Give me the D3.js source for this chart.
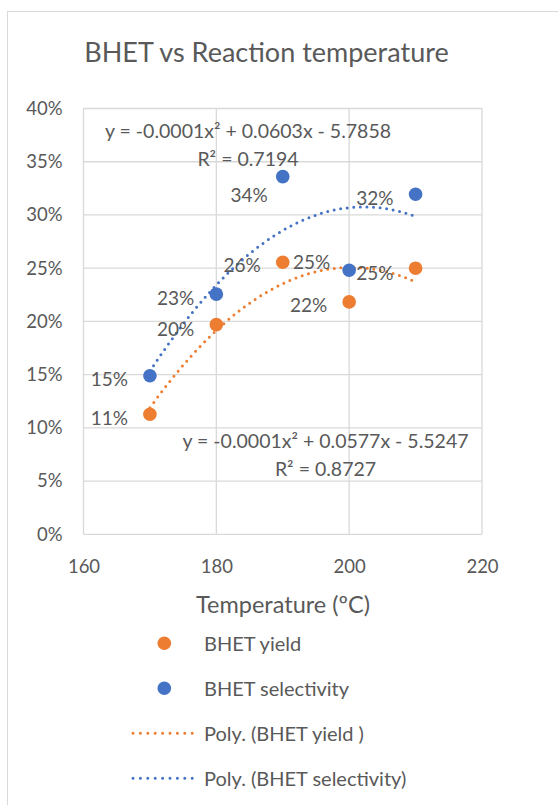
<!DOCTYPE html>
<html>
<head>
<meta charset="utf-8">
<script src="https://cdnjs.cloudflare.com/ajax/libs/d3/7.8.5/d3.min.js"></script>
<style>
  body { margin: 0; background: #fff; }
  text { font-family: Lato, "Open Sans", sans-serif; fill: #595959; }
</style>
</head>
<body>
<div id="chart"></div>
<script>
// Chart data
var temps = [170, 180, 190, 200, 210];
var yieldVals = [0.1128, 0.197, 0.2556, 0.2183, 0.25];
var selectVals = [0.149, 0.2256, 0.336, 0.248, 0.3195];
var xTicks = [160, 180, 200, 220];
var yTicks = [0, 0.05, 0.1, 0.15, 0.2, 0.25, 0.3, 0.35, 0.4];
var yieldEq = ["y = -0.0001x² + 0.0577x - 5.5247", "R² = 0.8727"];
var selectEq = ["y = -0.0001x² + 0.0603x - 5.7858", "R² = 0.7194"];
var legendNames = ["BHET yield", "BHET selectivity", "Poly. (BHET yield )", "Poly. (BHET selectivity)"];

var orange = "#ED7D31",
    blue = "#4472C4",
    grid = "#d9d9d9";

var width = 558, height = 805;
var plot = {left: 83.5, right: 482, top: 108.5, bottom: 534.3};

var svg = d3.select("#chart").append("svg")
    .attr("width", width)
    .attr("height", height);

// outer chart border
svg.append("rect")
    .attr("x", 7.5).attr("y", 11.5)
    .attr("width", 700).attr("height", 900)
    .attr("fill", "none")
    .attr("stroke", grid);

var x = d3.scaleLinear().domain([160, 220]).range([plot.left, plot.right]);
var y = d3.scaleLinear().domain([0, 0.4]).range([plot.bottom, plot.top]);

/** Gridlines */
svg.append("g").selectAll("line.h")
    .data(yTicks).enter().append("line")
    .attr("x1", plot.left).attr("x2", plot.right)
    .attr("y1", function(d){ return y(d); })
    .attr("y2", function(d){ return y(d); })
    .attr("stroke", grid).attr("stroke-width", 1.3);

svg.append("g").selectAll("line.v")
    .data(xTicks).enter().append("line")
    .attr("y1", plot.top).attr("y2", plot.bottom)
    .attr("x1", function(d){ return x(d); })
    .attr("x2", function(d){ return x(d); })
    .attr("stroke", grid).attr("stroke-width", 1.3);

/** Axes */
var yAxis = d3.axisLeft(y).tickValues(yTicks).tickFormat(d3.format(".0%")).tickSize(0).tickPadding(21);
svg.append("g")
    .attr("transform", "translate(" + plot.left + ",0)")
    .call(yAxis)
    .call(function(g){ g.select(".domain").remove(); })
    .selectAll("text")
    .style("font-size", "18.5px")
    .style("font-family", "Lato")
    .attr("fill", "#595959");

var xAxis = d3.axisBottom(x).tickValues(xTicks).tickFormat(d3.format("d")).tickSize(0).tickPadding(26);
svg.append("g")
    .attr("transform", "translate(0," + plot.bottom + ")")
    .call(xAxis)
    .call(function(g){ g.select(".domain").remove(); })
    .selectAll("text")
    .style("font-size", "18.5px")
    .style("font-family", "Lato")
    .attr("fill", "#595959");

/** Title + axis title */
svg.append("text")
    .attr("x", 266.5).attr("y", 62)
    .attr("text-anchor", "middle")
    .style("font-size", "27px")
    .text("BHET vs Reaction temperature");

svg.append("text")
    .attr("x", 283).attr("y", 613)
    .attr("text-anchor", "middle")
    .style("font-size", "23.5px")
    .text("Temperature (ºC)");

/** Quadratic least squares fit, like Excel's poly trendline */
function polyFit(xs, ys){
    var n = xs.length, mx = d3.mean(xs);
    var t = xs.map(function(v){ return (v - mx) / 10; });
    var s = function(f){ return d3.sum(t.map(function(ti, i){ return f(ti, ys[i]); })); };
    var S2 = s(function(a){ return a*a; }), S4 = s(function(a){ return a*a*a*a; });
    var Sy = s(function(a, b){ return b; }), Sty = s(function(a, b){ return a*b; });
    var St2y = s(function(a, b){ return a*a*b; });
    var b = Sty / S2;
    var c = (n*St2y - S2*Sy) / (n*S4 - S2*S2);
    var a = (Sy - c*S2) / n;
    return function(v){ var ti = (v - mx) / 10; return a + b*ti + c*ti*ti; };
}

var xs = d3.range(170, 210.01, 0.5);
var line = d3.line()
    .x(function(d){ return x(d[0]); })
    .y(function(d){ return y(d[1]); });

[[yieldVals, orange], [selectVals, blue]].forEach(function(s){
    var f = polyFit(temps, s[0]);
    svg.append("path")
        .datum(xs.map(function(v){ return [v, f(v)]; }))
        .attr("d", line)
        .attr("fill", "none")
        .attr("stroke", s[1])
        .attr("stroke-width", 3)
        .attr("stroke-linecap", "round")
        .attr("stroke-dasharray", "0 6.6");
});

/** Points */
function drawPoints(vals, color){
    svg.append("g").selectAll("circle")
        .data(vals).enter().append("circle")
        .attr("cx", function(d, i){ return x(temps[i]); })
        .attr("cy", function(d){ return y(d); })
        .attr("r", 6.8)
        .attr("fill", color);
}
drawPoints(yieldVals, orange);
drawPoints(selectVals, blue);

/** Data labels (placed to the left of points) */
var yieldLabelOffsets = [[-22, 3], [-22, 4], [-22, 2], [-22, 3], [-22, 4]];
var selectLabelOffsets = [[-22, 3], [-22, 3], [-15, 18], [-19, -9], [-22, 3]];
function drawLabels(vals, offs){
    svg.append("g").selectAll("text")
        .data(vals).enter().append("text")
        .attr("x", function(d, i){ return x(temps[i]) + offs[i][0]; })
        .attr("y", function(d, i){ return y(d) + offs[i][1]; })
        .attr("text-anchor", "end")
        .attr("dominant-baseline", "central")
        .style("font-size", "19px")
        .text(d3.format(".0%"));
}
drawLabels(yieldVals, yieldLabelOffsets);
drawLabels(selectVals, selectLabelOffsets);

/** Trendline equations */
function drawEq(lines, cx, y0){
    svg.append("g").selectAll("text")
        .data(lines).enter().append("text")
        .attr("x", cx)
        .attr("y", function(d, i){ return y0 + i*28; })
        .attr("text-anchor", "middle")
        .style("font-size", "19.5px")
        .text(function(d){ return d; });
}
drawEq(selectEq, 248, 138);
drawEq(yieldEq, 325.5, 448);

/** Legend */
var legend = svg.selectAll(".legend")
    .data(legendNames).enter().append("g")
    .attr("class", "legend")
    .attr("transform", function(d, i){ return "translate(0," + (643.3 + i*45) + ")"; });

legend.each(function(d, i){
    var g = d3.select(this);
    var color = (i % 2 === 0) ? orange : blue;
    if (i < 2) {
        g.append("circle").attr("cx", 164.3).attr("cy", 0).attr("r", 6.8).attr("fill", color);
    } else {
        g.append("line")
            .attr("x1", 133).attr("x2", 193)
            .attr("stroke", color)
            .attr("stroke-width", 3)
            .attr("stroke-linecap", "round")
            .attr("stroke-dasharray", "0 7.4");
    }
    g.append("text")
        .attr("x", 204).attr("y", 0)
        .attr("dominant-baseline", "central")
        .style("font-size", "20px")
        .text(d);
});
</script>
</body>
</html>
